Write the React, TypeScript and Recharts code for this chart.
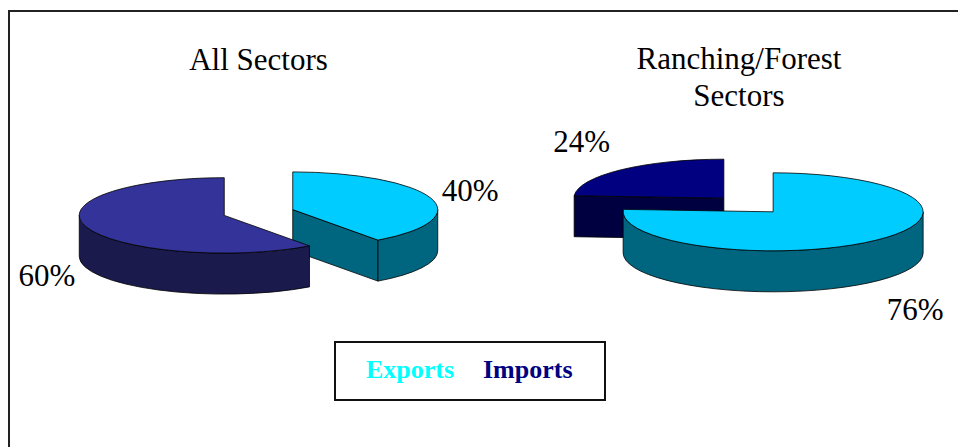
import { PieChart, Pie } from "recharts";

const allSectors = [
  { name: "Exports", value: 40 },
  { name: "Imports", value: 60 },
];
// imports first here so the back slice gets painted before the front one
const ranchingForest = [
  { name: "Imports", value: 24 },
  { name: "Exports", value: 76 },
];
const legendItems = ["Exports", "Imports"];

const W = 958;
const H = 447;
const TILT = 0.26;
const DEPTH = 41;
const EXPLODE = 36;
const RAD = Math.PI / 180;
const FONT = '"Liberation Serif", "Times New Roman", serif';

type Shade = { top: string; side: string };

const leftShades: Record<string, Shade> = {
  Exports: { top: "#00CCFF", side: "#006680" },
  Imports: { top: "#333399", side: "#1A1A4D" },
};
const rightShades: Record<string, Shade> = {
  Exports: { top: "#00CCFF", side: "#006680" },
  Imports: { top: "#000080", side: "#000040" },
};
const legendColors: Record<string, string> = {
  Exports: "#00FFFF",
  Imports: "#000080",
};

// draws one slice as a tilted, extruded, exploded wedge plus its % label
function slice3d(shades: Record<string, Shade>) {
  return function SliceLabel(props: any) {
    const rx = props.outerRadius;
    const ry = rx * TILT;
    const mid = (props.startAngle + props.endAngle) / 2;
    const a1 = Math.min(props.startAngle, props.endAngle);
    const a2 = Math.max(props.startAngle, props.endAngle);
    const cx = props.cx + EXPLODE * Math.cos(mid * RAD);
    const cy = props.cy - EXPLODE * TILT * Math.sin(mid * RAD);
    const key = props.payload?.name ?? props.name;
    const shade = shades[key];

    const xy = (a: number): [number, number] => [
      cx + rx * Math.cos(a * RAD),
      cy - ry * Math.sin(a * RAD),
    ];
    const P = (a: number, dy = 0) => {
      const [x, y] = xy(a);
      return `${x.toFixed(2)} ${(y + dy).toFixed(2)}`;
    };

    const walls: string[] = [];
    if (Math.cos(a1 * RAD) > 0.01)
      walls.push(`M${cx} ${cy}L${P(a1)}L${P(a1, DEPTH)}L${cx} ${cy + DEPTH}Z`);
    if (Math.cos(a2 * RAD) < -0.01)
      walls.push(`M${cx} ${cy}L${P(a2)}L${P(a2, DEPTH)}L${cx} ${cy + DEPTH}Z`);
    for (let k = Math.floor((a1 - 360) / 360); k <= Math.ceil(a2 / 360); k++) {
      const s = Math.max(a1, 180 + 360 * k);
      const e = Math.min(a2, 360 + 360 * k);
      if (e - s > 0.01)
        walls.push(
          `M${P(s)}A${rx} ${ry} 0 0 0 ${P(e)}L${P(e, DEPTH)}A${rx} ${ry} 0 0 1 ${P(s, DEPTH)}Z`
        );
    }
    const large = a2 - a1 > 180 ? 1 : 0;
    const top = `M${cx} ${cy}L${P(a1)}A${rx} ${ry} 0 ${large} 0 ${P(a2)}Z`;

    const c = Math.cos(mid * RAD);
    const s = Math.sin(mid * RAD);
    const [ax, ay0] = xy(mid);
    const ay = ay0 + (s < 0 ? DEPTH : 0);
    const dir = c >= 0 ? 1 : -1;

    return (
      <g>
        {walls.map((d, i) => (
          <path key={i} d={d} fill={shade.side} stroke="#000" strokeWidth={0.8} strokeLinejoin="round" />
        ))}
        <path d={top} fill={shade.top} stroke="#000" strokeWidth={0.8} strokeLinejoin="round" />
        <text
          x={ax + dir * 11}
          y={ay - s * (11 + 39 * Math.abs(s))}
          textAnchor={dir > 0 ? "start" : "end"}
          dominantBaseline="central"
          fontFamily={FONT}
          fontSize={31}
          fill="#000"
        >
          {Math.round(props.percent * 100)}%
        </text>
      </g>
    );
  };
}

export default function App() {
  return (
    <div style={{ position: "absolute", left: 0, top: 0, width: W, height: H, background: "#fff" }}>
      <PieChart width={W} height={H} margin={{ top: 0, right: 0, bottom: 0, left: 0 }}>
        <Pie
          data={allSectors}
          dataKey="value"
          nameKey="name"
          cx={258.5}
          cy={212.5}
          outerRadius={145}
          startAngle={90}
          endAngle={-270}
          fill="none"
          stroke="none"
          label={slice3d(leftShades)}
          labelLine={false}
          isAnimationActive={false}
        />
        <Pie
          data={ranchingForest}
          dataKey="value"
          nameKey="name"
          cx={748.5}
          cy={205}
          outerRadius={150}
          startAngle={90}
          endAngle={450}
          fill="none"
          stroke="none"
          label={slice3d(rightShades)}
          labelLine={false}
          isAnimationActive={false}
        />
      </PieChart>
      <svg
        width={W}
        height={H}
        style={{ position: "absolute", left: 0, top: 0, pointerEvents: "none" }}
        fontFamily={FONT}
      >
        <path d="M9 447L9 11L958 11" fill="none" stroke="#222" strokeWidth={2} />
        <text x={258.5} y={70} textAnchor="middle" fontSize={31} fill="#000">
          All Sectors
        </text>
        <text x={739} y={69} textAnchor="middle" fontSize={31} fill="#000">
          Ranching/Forest
        </text>
        <text x={739} y={106} textAnchor="middle" fontSize={31} fill="#000">
          Sectors
        </text>
        <rect x={335} y={342} width={270} height={58} fill="#fff" stroke="#111" strokeWidth={2} />
        {legendItems.map((item, i) => (
          <text
            key={item}
            x={366 + i * 117}
            y={378}
            fontSize={26}
            fontWeight="bold"
            fill={legendColors[item]}
          >
            {item}
          </text>
        ))}
      </svg>
    </div>
  );
}
